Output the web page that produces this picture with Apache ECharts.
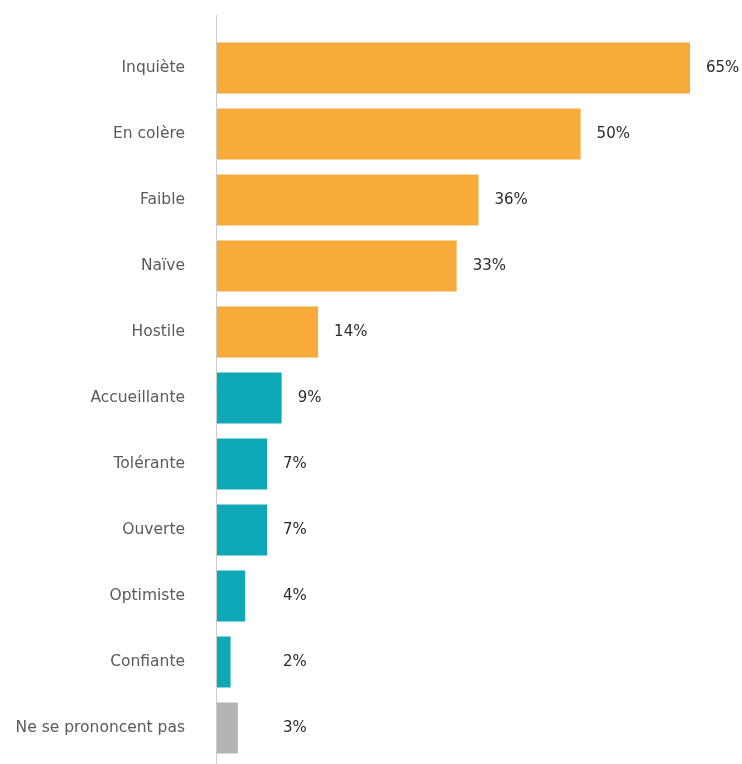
<!DOCTYPE html>
<html><head><meta charset="utf-8">
<script src="https://cdn.jsdelivr.net/npm/echarts@6/dist/echarts.min.js"></script>
<style>html,body{margin:0;padding:0;background:#fff}#c{width:742px;height:764px}</style>
</head><body><div id="c"></div>
<script>
const categories = ["Inquiète","En colère","Faible","Naïve","Hostile","Accueillante","Tolérante","Ouverte","Optimiste","Confiante","Ne se prononcent pas"];
const values = [65,50,36,33,14,9,7,7,4,2,3];
const groups = ["neg","neg","neg","neg","neg","pos","pos","pos","pos","pos","none"];
const groupColors = {neg:"#F7AB3A", pos:"#0FA8B7", none:"#B4B4B4"};

const PX_PER_UNIT = 474/65;
const chart = echarts.init(document.getElementById('c'));
chart.setOption({
  animation:false,
  grid:{left:216, right:52, top:35, bottom:3, containLabel:false},
  xAxis:{type:'value', min:0, max:65, show:false},
  yAxis:{type:'category', data:categories, inverse:true,
    axisLine:{show:false}, axisTick:{show:false},
    axisLabel:{margin:31, color:'#5a5a5a', fontSize:15.5, fontFamily:'"DejaVu Sans", sans-serif'}},
  graphic:[{type:'line', shape:{x1:216.5,y1:15,x2:216.5,y2:764}, style:{stroke:'#ccc', lineWidth:1}, z:10}],
  series:[{type:'bar', barWidth:51,
    data: values.map((v,i)=>({value:v, itemStyle:{color:groupColors[groups[i]]},
      label:{offset:[Math.max(0,(7-v)*PX_PER_UNIT),0]}})),
    label:{show:true, position:'right', distance:16, formatter:'{c}%', color:'#2a2a2a', fontSize:15, fontFamily:'"DejaVu Sans", sans-serif'}
  }]
});
</script></body></html>
